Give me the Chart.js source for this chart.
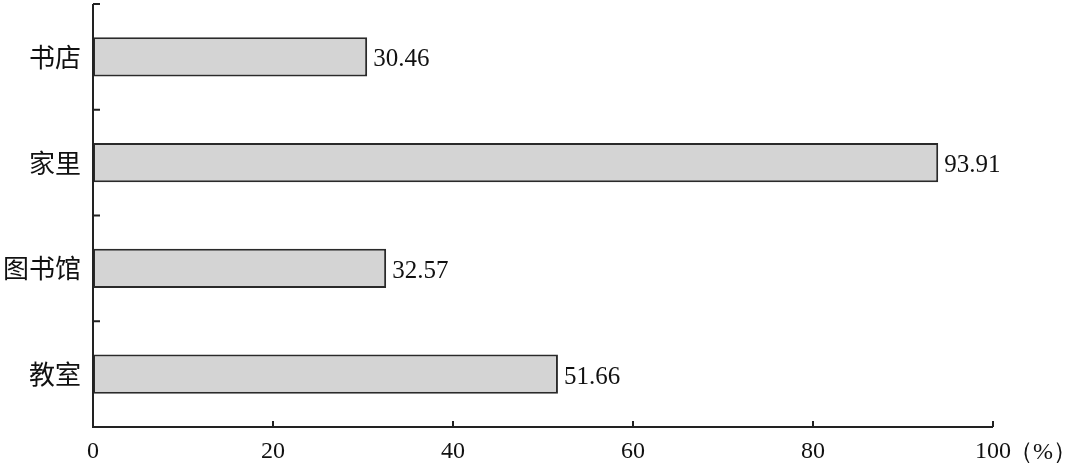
<!DOCTYPE html>
<html>
<head>
<meta charset="utf-8">
<script src="https://cdn.jsdelivr.net/npm/chart.js@4"></script>
<style>
  html, body { margin: 0; padding: 0; background: #fff; }
  #wrap { width: 1080px; height: 468px; position: relative; }
</style>
</head>
<body>
<div id="wrap"><canvas id="myChart"></canvas></div>
<script>
// data
const categories = ['书店', '家里', '图书馆', '教室'];
const values = [30.46, 93.91, 32.57, 51.66];
const xTicks = [0, 20, 40, 60, 80, 100];
const unit = '（%）';

const serif = '"Liberation Serif", "DejaVu Serif", serif';
const cjk = '"Noto Sans CJK SC", "Noto Sans", sans-serif';

// axis lines, inward ticks, value labels
const decor = {
  id: 'decor',
  afterDatasetsDraw(chart) {
    const ctx = chart.ctx;
    const area = chart.chartArea;
    const x = chart.scales.x;
    const y = chart.scales.y;
    ctx.save();
    ctx.strokeStyle = '#222';
    ctx.lineWidth = 2;
    ctx.beginPath();
    ctx.moveTo(area.left, area.top);
    ctx.lineTo(area.left, area.bottom);
    ctx.lineTo(area.right, area.bottom);
    ctx.stroke();

    // y ticks between categories, pointing right
    const band = (area.bottom - area.top) / categories.length;
    ctx.beginPath();
    for (let i = 0; i < categories.length; i++) {
      const yy = y.getPixelForValue(i) - band / 2;
      ctx.moveTo(area.left, yy);
      ctx.lineTo(area.left + 7, yy);
    }
    ctx.stroke();

    // x ticks, pointing up
    ctx.beginPath();
    xTicks.forEach(v => {
      if (v === 0) return;
      const xx = x.getPixelForValue(v);
      ctx.moveTo(xx, area.bottom);
      ctx.lineTo(xx, area.bottom - 6);
    });
    ctx.stroke();

    // value labels
    ctx.fillStyle = '#111';
    ctx.font = '25px ' + serif;
    ctx.textBaseline = 'middle';
    ctx.textAlign = 'left';
    const meta = chart.getDatasetMeta(0);
    meta.data.forEach((bar, i) => {
      ctx.fillText(values[i].toFixed(2), bar.x + 6, bar.y + 3);
    });

    // unit after the last tick
    ctx.font = '24px ' + serif;
    const lastX = x.getPixelForValue(xTicks[xTicks.length - 1]);
    ctx.fillText(unit, lastX + 16, area.bottom + 26);
    ctx.restore();
  }
};

const canvas = document.getElementById('myChart');
const chart = new Chart(canvas.getContext('2d'), {
  type: 'bar',
  data: {
    labels: categories,
    datasets: [{
      data: values,
      backgroundColor: '#d4d4d4',
      borderColor: '#2a2a2a',
      borderWidth: 2,
      borderSkipped: false,
      categoryPercentage: 1,
      barPercentage: 0.37
    }]
  },
  options: {
    indexAxis: 'y',
    responsive: true,
    maintainAspectRatio: false,
    animation: false,
    layout: { padding: { top: 4, right: 87, left: 0, bottom: 0 } },
    plugins: { legend: { display: false }, tooltip: { enabled: false } },
    scales: {
      x: {
        min: 0,
        max: 100,
        afterFit(s) { s.height = 41; },
        afterBuildTicks(s) { s.ticks = xTicks.map(v => ({ value: v })); },
        grid: { display: false },
        border: { display: false },
        ticks: {
          color: '#111',
          font: { family: serif, size: 24 },
          padding: 2,
          maxRotation: 0
        }
      },
      y: {
        afterFit(s) { s.width = 93; s.paddingTop = 0; s.paddingBottom = 0; },
        grid: { display: false },
        border: { display: false },
        ticks: {
          color: '#111',
          font: { family: cjk, size: 26 },
          padding: 4
        }
      }
    }
  },
  plugins: [decor]
});
</script>
</body>
</html>
